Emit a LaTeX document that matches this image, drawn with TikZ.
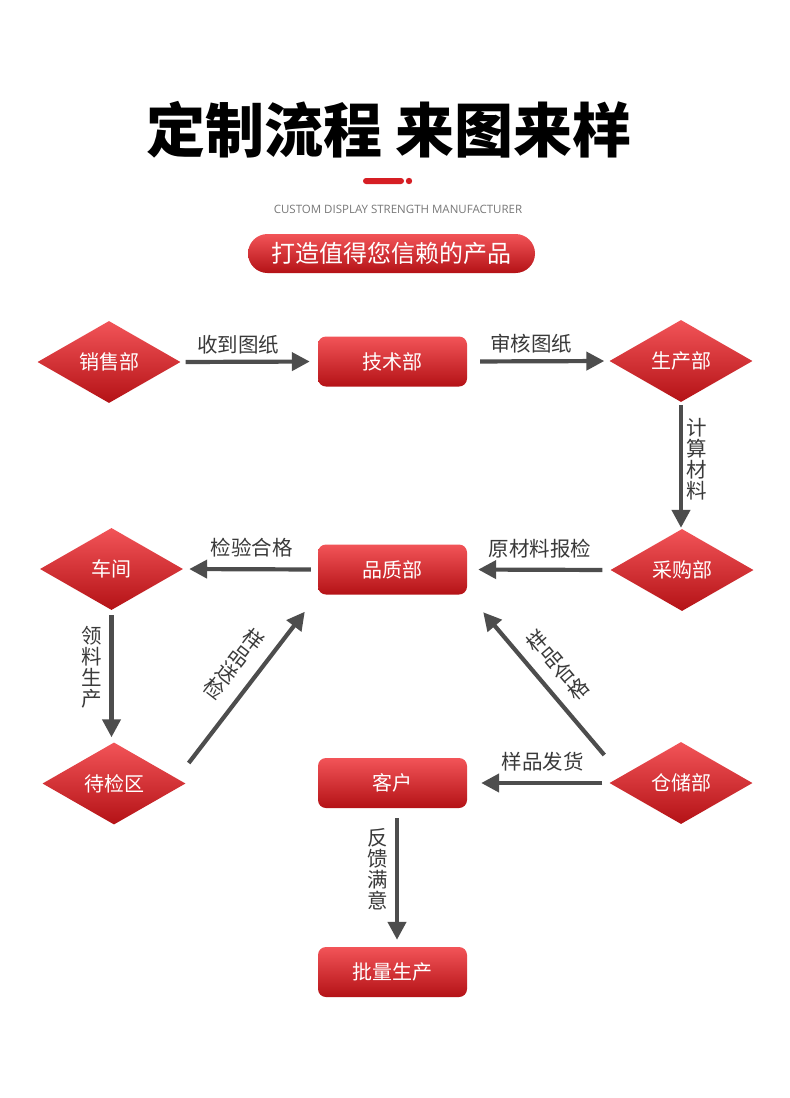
\documentclass[tikz,border=0pt]{standalone}
\usepackage{fontspec}
\setmainfont{Noto Sans CJK SC}
\newfontfamily\latinfont{Open Sans}
\usetikzlibrary{calc,arrows.meta,positioning,shapes.geometric}
\definecolor{flowredA}{RGB}{242,84,88}
\definecolor{flowredB}{RGB}{180,18,22}
\definecolor{flowdeco}{RGB}{214,30,36}
\definecolor{flowgray}{RGB}{77,77,77}
\definecolor{flowtext}{RGB}{58,58,58}
\definecolor{flowsub}{RGB}{120,120,120}
\tikzset{
  dept/.style={diamond, aspect=1.75, minimum width=143pt, minimum height=82pt,
               inner sep=0pt, top color=flowredA, bottom color=flowredB,
               text=white, font=\fontsize{20}{22}\selectfont},
  dbox/.style={rectangle, rounded corners=8pt, minimum width=149pt, minimum height=50pt,
               inner sep=0pt, top color=flowredA, bottom color=flowredB,
               text=white, font=\fontsize{20}{22}\selectfont},
  slogan/.style={rectangle, rounded corners=19.5pt, minimum width=287pt, minimum height=39pt,
                 inner sep=0pt, top color=flowredA, bottom color=flowredB,
                 text=white, font=\fontsize{24}{26}\selectfont},
  farrow/.style={-{Triangle[length=18pt,width=18pt]}, line width=4.2pt, flowgray},
  flabel/.style={text=flowtext, font=\fontsize{20.5}{21}\selectfont, inner sep=0pt},
  vlabel/.style={flabel, align=center},
}
\begin{document}
\begin{tikzpicture}[x=1pt,y=-1pt]
\fill[white] (0,0) rectangle (790,1098);
\useasboundingbox (0,0) rectangle (790,1098);
\node[font=\fontsize{59}{60}\selectfont\bfseries] (title) at (389,130) {定制流程 来图来样};
\fill[flowdeco, rounded corners=3pt] (363,178) rectangle (404,184);
\fill[flowdeco] (409,181) circle (3.2);
\node[font=\latinfont\fontsize{11.5}{12}\selectfont, text=flowsub] (sub) at (398,209) {CUSTOM DISPLAY STRENGTH MANUFACTURER};
\node[slogan] (pill) at (391.5,253.5) {打造值得您信赖的产品};
\node[dept] (xs) at (109,362)     {销售部};
\node[dbox] (js) at (392.5,361.5) {技术部};
\node[dept] (sc) at (681,361)     {生产部};
\node[dept] (cg) at (682,570)     {采购部};
\node[dbox] (pz) at (392.5,569.5) {品质部};
\node[dept] (cj) at (111.5,569)   {车间};
\node[dept] (dj) at (114,783.5)   {待检区};
\node[dept] (cc) at (681,783)     {仓储部};
\node[dbox] (kh) at (392.5,783)   {客户};
\node[dbox] (pl) at (392.5,972)   {批量生产};
\coordinate (djout) at ($(dj.east)+(3,-20.5)$);
\coordinate (pzinL) at ($(pz.south west)+(-13,17)$);
\coordinate (ccout) at ($(cc.west)+(-5,-28)$);
\coordinate (pzinR) at ($(pz.south east)+(16,17.5)$);
\draw[farrow, shorten <=5pt, shorten >=8pt] (xs.east) -- node[flabel, pos=0.42, yshift=17.5pt]{收到图纸} (js.west);
\draw[farrow, shorten <=13pt, shorten >=5pt] (js.east) -- node[flabel, pos=0.45, yshift=18pt]{审核图纸} (sc.west);
\draw[farrow, shorten <=3pt, shorten >=1pt] (sc.south) -- node[vlabel, pos=0.45, xshift=16pt]{计\\算\\材\\料} (sc.south |- cg.north);
\draw[farrow, shorten <=8pt, shorten >=11pt] (cg.west) -- node[flabel, pos=0.49, yshift=21pt]{原材料报检} (pz.east);
\draw[farrow, shorten <=7pt, shorten >=6pt] (pz.west) -- node[flabel, pos=0.49, yshift=22pt]{检验合格} (cj.east);
\draw[farrow, shorten <=5pt, shorten >=5pt] (cj.south) -- node[vlabel, pos=0.43, xshift=-20pt]{领\\料\\生\\产} (cj.south |- dj.north);
\draw[farrow] (djout) -- node[vlabel, pos=0.5, rotate=-37.8, xshift=0pt, yshift=0pt, shift={(-24.5pt,10.5pt)}]{样\\品\\送\\检} (pzinL);
\draw[farrow] (ccout) -- node[vlabel, pos=0.5, rotate=40.5, shift={(23pt,5.5pt)}]{样\\品\\合\\格} (pzinR);
\draw[farrow, shorten <=7pt, shorten >=14pt] (cc.west) -- node[flabel, pos=0.47, yshift=21pt]{样品发货} (kh.east);
\draw[farrow, shorten <=10pt, shorten >=7pt] ([xshift=4.5pt]kh.south) -- node[vlabel, pos=0.44, xshift=-19pt]{反\\馈\\满\\意} ([xshift=4.5pt]pl.north);
\end{tikzpicture}
\end{document}
